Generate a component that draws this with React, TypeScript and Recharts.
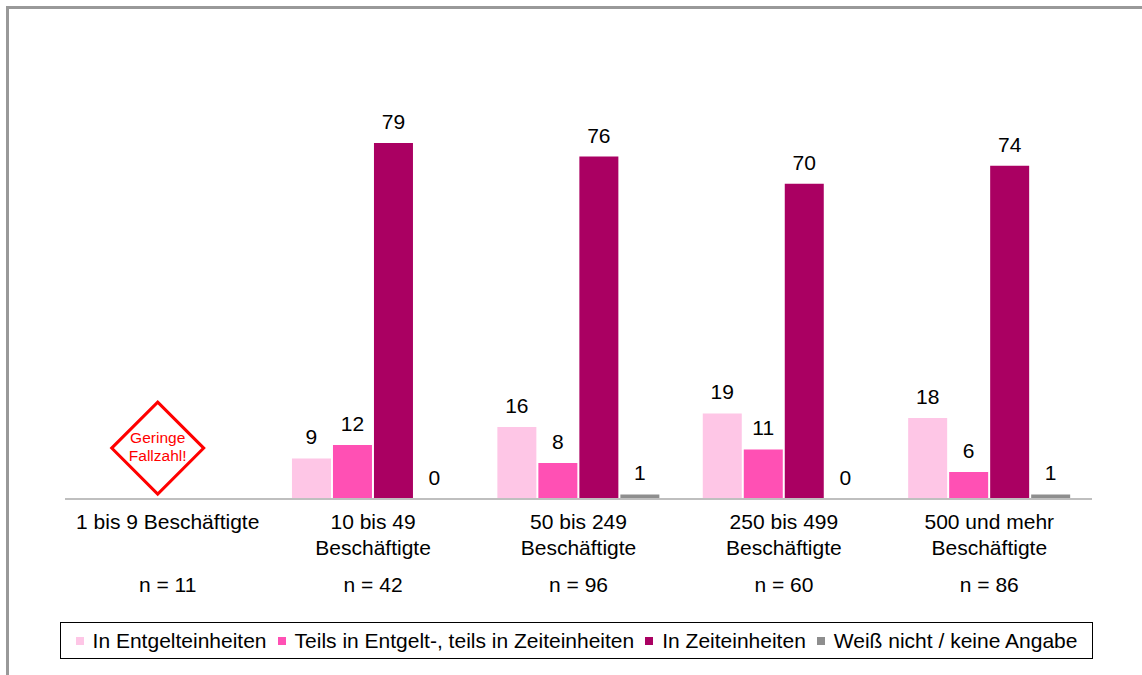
import { BarChart, Bar, XAxis, YAxis, LabelList, ReferenceDot } from 'recharts'

const categories = ['1 bis 9 Beschäftigte', '10 bis 49\nBeschäftigte', '50 bis 249\nBeschäftigte', '250 bis 499\nBeschäftigte', '500 und mehr\nBeschäftigte']
const caseCounts = [11, 42, 96, 60, 86]
const entgelt = [null, 9, 16, 19, 18]
const teils = [null, 12, 8, 11, 6]
const zeit = [null, 79, 76, 70, 74]
const weissNicht = [null, 0, 1, 0, 1]

const series = [
  { key: 'entgelt', name: 'In Entgelteinheiten', color: '#FEC6E6' },
  { key: 'teils', name: 'Teils in Entgelt-, teils in Zeiteinheiten', color: '#FF50B4' },
  { key: 'zeit', name: 'In Zeiteinheiten', color: '#AA0062' },
  { key: 'weiss', name: 'Weiß nicht / keine Angabe', color: '#8E8E8E' },
]

const data = categories.map((c, i) => ({
  category: c,
  entgelt: entgelt[i],
  teils: teils[i],
  zeit: zeit[i],
  weiss: weissNicht[i],
}))

const font = 'Arial, "Liberation Sans", sans-serif'

function CategoryTick(props: any) {
  const { x, y, payload, index } = props
  const lines = String(payload.value).split('\n')
  return (
    <g>
      {lines.map((l, i) => (
        <text key={i} x={x} y={y + 22 + i * 26} textAnchor="middle" fontFamily={font} fontSize={21} fill="#000">{l}</text>
      ))}
      <text x={x} y={y + 85} textAnchor="middle" fontFamily={font} fontSize={21} fill="#000">n = {caseCounts[index]}</text>
    </g>
  )
}

function WarnDiamond(props: any) {
  const cx = props.cx - 10
  const cy = props.cy
  const r = 46
  return (
    <g>
      <polygon points={`${cx},${cy - r} ${cx + r},${cy} ${cx},${cy + r} ${cx - r},${cy}`} fill="#fff" stroke="#FF0000" strokeWidth={3} />
      <text x={cx} y={cy - 5} textAnchor="middle" fontFamily={font} fontSize={15.5} fill="#FF0000">Geringe</text>
      <text x={cx} y={cy + 13} textAnchor="middle" fontFamily={font} fontSize={15.5} fill="#FF0000">Fallzahl!</text>
    </g>
  )
}

// zero-height bars otherwise drop their value label
const keepZero = (value: any) => (value === 0 ? 0.01 : 0)

export default function App() {
  return (
    <div style={{ position: 'fixed', left: 0, top: 0, width: 1142, height: 675, background: '#fff' }}>
      <div style={{ position: 'absolute', left: 6, top: 6, right: 0, bottom: 0, borderLeft: '3px solid #999', borderTop: '3px solid #999' }} />
      <BarChart
        width={1142}
        height={675}
        data={data}
        margin={{ top: 48.5, right: 50, bottom: 146, left: 65 }}
        barCategoryGap="10.5%"
        barGap={2}
      >
        <XAxis dataKey="category" height={30} tick={<CategoryTick />} tickLine={false} axisLine={{ stroke: '#BFBFBF', strokeWidth: 2 }} interval={0} />
        <YAxis hide domain={[0, 100]} />
        {series.map(s => (
          <Bar key={s.key} dataKey={s.key} fill={s.color} minPointSize={keepZero} isAnimationActive={false}>
            <LabelList
              dataKey={s.key}
              position="top"
              offset={14}
              fontSize={21}
              fontFamily={font}
              fill="#000"
              formatter={(v: any) => (v === null || v === undefined ? '' : String(v))}
            />
          </Bar>
        ))}
        <ReferenceDot x={categories[0]} y={11.3} shape={<WarnDiamond />} ifOverflow="visible" />
      </BarChart>
      <div
        style={{
          position: 'absolute',
          left: 60,
          top: 622,
          width: 1031,
          height: 35,
          border: '1px solid #000',
          display: 'flex',
          alignItems: 'center',
          justifyContent: 'center',
          fontFamily: font,
          fontSize: 21,
          color: '#000',
          whiteSpace: 'nowrap',
        }}
      >
        {series.map((s, i) => (
          <span key={s.key} style={{ display: 'flex', alignItems: 'center', marginLeft: i === 0 ? 0 : 11 }}>
            <span style={{ width: 8, height: 8, background: s.color, marginRight: 9, display: 'inline-block' }} />
            {s.name}
          </span>
        ))}
      </div>
    </div>
  )
}
